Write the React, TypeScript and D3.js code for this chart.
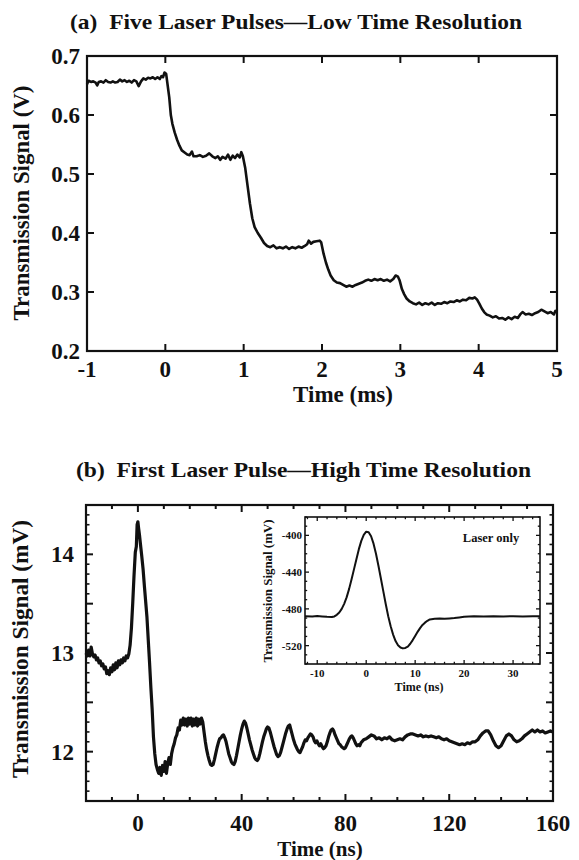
import React from "react";
import * as d3 from "d3";

type P = [number, number];

// ---------- Panel (a) ----------
const aTitle = "(a)  Five Laser Pulses\u2014Low Time Resolution";
const aXLabel = "Time (ms)";
const aYLabel = "Transmission Signal (V)";
const aTicksX = [-1, 0, 1, 2, 3, 4, 5];
const aTicksY = [0.2, 0.3, 0.4, 0.5, 0.6, 0.7];
const aSeries: P[] = [
  [-1.0, 0.652], [-0.98, 0.658], [-0.95, 0.656], [-0.92, 0.657], [-0.89, 0.655], [-0.87, 0.65], [-0.85, 0.656],
  [-0.82, 0.657], [-0.79, 0.655], [-0.76, 0.659], [-0.73, 0.656], [-0.7, 0.655], [-0.67, 0.657], [-0.64, 0.655],
  [-0.61, 0.656], [-0.58, 0.66], [-0.55, 0.657], [-0.52, 0.659], [-0.49, 0.656], [-0.46, 0.658], [-0.43, 0.655],
  [-0.4, 0.659], [-0.37, 0.657], [-0.34, 0.649], [-0.31, 0.657], [-0.28, 0.662], [-0.25, 0.66], [-0.22, 0.663],
  [-0.19, 0.662], [-0.16, 0.664], [-0.13, 0.661], [-0.1, 0.664], [-0.07, 0.661], [-0.05, 0.666], [-0.03, 0.664],
  [-0.01, 0.672], [0.01, 0.67],
  [0.03, 0.65], [0.05, 0.63], [0.07, 0.6], [0.09, 0.585], [0.12, 0.57], [0.15, 0.558], [0.18, 0.548], [0.21, 0.54],
  [0.25, 0.536], [0.28, 0.533], [0.31, 0.532], [0.34, 0.538], [0.36, 0.53], [0.4, 0.53], [0.44, 0.532], [0.48, 0.529],
  [0.52, 0.531], [0.56, 0.535], [0.6, 0.53], [0.64, 0.527], [0.67, 0.53], [0.7, 0.524], [0.73, 0.529], [0.77, 0.526],
  [0.8, 0.533], [0.83, 0.524], [0.86, 0.531], [0.89, 0.527], [0.92, 0.533], [0.95, 0.528], [0.97, 0.537], [0.99, 0.53],
  [1.02, 0.51], [1.05, 0.48], [1.08, 0.45], [1.11, 0.425], [1.14, 0.41], [1.18, 0.4], [1.22, 0.392], [1.26, 0.383],
  [1.3, 0.378], [1.34, 0.376], [1.38, 0.379], [1.42, 0.374], [1.46, 0.376], [1.5, 0.374], [1.54, 0.377], [1.58, 0.373],
  [1.62, 0.376], [1.66, 0.374], [1.7, 0.377], [1.74, 0.375], [1.78, 0.378], [1.81, 0.381], [1.83, 0.387], [1.86, 0.382],
  [1.89, 0.385], [1.93, 0.386], [1.97, 0.387], [1.99, 0.384],
  [2.02, 0.365], [2.05, 0.35], [2.08, 0.338], [2.11, 0.328], [2.15, 0.32], [2.19, 0.316], [2.23, 0.315], [2.27, 0.312],
  [2.31, 0.309], [2.35, 0.311], [2.39, 0.309], [2.43, 0.312], [2.47, 0.314], [2.51, 0.316], [2.55, 0.319], [2.59, 0.321],
  [2.63, 0.319], [2.67, 0.322], [2.71, 0.32], [2.75, 0.322], [2.79, 0.319], [2.83, 0.321], [2.87, 0.318], [2.91, 0.322],
  [2.94, 0.328], [2.97, 0.326], [2.99, 0.32],
  [3.02, 0.305], [3.05, 0.296], [3.08, 0.289], [3.12, 0.284], [3.16, 0.281], [3.2, 0.279], [3.24, 0.282], [3.28, 0.278],
  [3.32, 0.281], [3.36, 0.279], [3.4, 0.282], [3.44, 0.278], [3.48, 0.281], [3.52, 0.28], [3.56, 0.283], [3.6, 0.281],
  [3.64, 0.284], [3.68, 0.283], [3.72, 0.286], [3.76, 0.284], [3.8, 0.287], [3.84, 0.286], [3.88, 0.29], [3.92, 0.289],
  [3.95, 0.291], [3.98, 0.287],
  [4.01, 0.28], [4.04, 0.272], [4.07, 0.266], [4.1, 0.262], [4.14, 0.26], [4.18, 0.257], [4.22, 0.259], [4.26, 0.255],
  [4.3, 0.256], [4.34, 0.253], [4.38, 0.257], [4.42, 0.254], [4.46, 0.258], [4.5, 0.256], [4.53, 0.262], [4.56, 0.266],
  [4.6, 0.262], [4.64, 0.263], [4.68, 0.261], [4.72, 0.264], [4.76, 0.266], [4.8, 0.27], [4.84, 0.267], [4.88, 0.264],
  [4.92, 0.266], [4.96, 0.262], [4.98, 0.268], [5.0, 0.266],
];

// ---------- Panel (b) ----------
const bTitle = "(b)  First Laser Pulse\u2014High Time Resolution";
const bXLabel = "Time (ns)";
const bYLabel = "Transmission Signal (mV)";
const bTicksX = [0, 40, 80, 120, 160];
const bTicksY = [12, 13, 14];
const bSeries: P[] = [
  [-20, 13.0], [-19.5, 12.97], [-19, 13.03], [-18.5, 12.97], [-18, 13.06], [-17.5, 12.99], [-17, 12.96], [-16.5, 12.98],
  [-16, 12.93], [-15.5, 12.95], [-15, 12.9], [-14.5, 12.92], [-14, 12.87], [-13.5, 12.89], [-13, 12.84], [-12.5, 12.86],
  [-12, 12.79], [-11.5, 12.82], [-11, 12.78], [-10.5, 12.85], [-10, 12.81], [-9.5, 12.88], [-9, 12.83], [-8.5, 12.9],
  [-8, 12.85], [-7.5, 12.92], [-7, 12.88], [-6.5, 12.93], [-6, 12.9], [-5.5, 12.95], [-5, 12.92], [-4.5, 12.97],
  [-4, 12.95], [-3.5, 12.99], [-3, 13.08], [-2.5, 13.25], [-2, 13.5], [-1.5, 13.78], [-1, 14.02], [-0.6, 14.08],
  [-0.3, 14.3], [0, 14.33], [0.3, 14.26], [0.6, 14.2], [1, 14.1], [1.5, 13.98], [2, 13.85], [2.5, 13.68], [3, 13.52],
  [3.5, 13.36], [4, 13.13], [4.5, 12.9], [5, 12.65], [5.5, 12.43], [6, 12.15], [6.5, 11.98], [7, 11.87], [7.5, 11.82],
  [8, 11.78], [8.5, 11.84], [9, 11.76], [9.5, 11.86], [10, 11.8], [10.5, 11.9], [11, 11.78], [11.5, 11.88], [12, 11.94],
  [12.5, 11.87], [13, 11.98], [13.5, 12.04], [14, 12.08], [14.5, 12.14], [15, 12.17], [15.5, 12.24], [16, 12.22],
  [16.5, 12.32], [17, 12.27], [17.5, 12.34], [18, 12.27], [18.5, 12.33], [19, 12.26], [19.5, 12.34], [20, 12.28],
  [20.5, 12.34], [21, 12.26], [21.5, 12.33], [22, 12.27], [22.5, 12.34], [23, 12.26], [23.5, 12.33], [24, 12.28],
  [24.5, 12.34], [25, 12.3], [25.5, 12.2], [26, 12.1], [26.5, 12.02], [27, 11.96], [27.5, 11.91], [28, 11.87],
  [28.5, 11.86], [29, 11.87], [29.5, 11.92], [30, 11.98], [30.5, 12.04], [31, 12.09], [31.5, 12.13], [32, 12.14],
  [32.5, 12.16], [33, 12.17], [33.5, 12.14], [34, 12.1], [34.5, 12.04], [35, 11.98], [35.5, 11.94], [36, 11.9],
  [36.5, 11.88], [37, 11.87], [37.5, 11.9], [38, 11.96], [38.5, 12.03], [39, 12.1], [39.5, 12.17], [40, 12.23],
  [40.5, 12.28], [41, 12.31], [41.5, 12.29], [42, 12.24], [42.5, 12.18], [43, 12.12], [43.5, 12.07], [44, 12.02],
  [44.5, 11.98], [45, 11.94], [45.5, 11.92], [46, 11.91], [46.5, 11.93], [47, 11.98], [47.5, 12.04], [48, 12.1],
  [48.5, 12.15], [49, 12.19], [49.5, 12.23], [50, 12.25], [50.5, 12.24], [51, 12.2], [51.5, 12.15], [52, 12.1],
  [52.5, 12.05], [53, 12.01], [53.5, 11.97], [54, 11.95], [54.5, 11.96], [55, 11.99], [55.5, 12.04], [56, 12.09],
  [56.5, 12.14], [57, 12.19], [57.5, 12.23], [58, 12.26], [58.5, 12.27], [59, 12.22], [59.5, 12.17], [60, 12.12],
  [60.5, 12.08], [61, 12.05], [61.5, 12.02], [62, 12.0], [62.5, 11.99], [63, 12.02], [63.5, 12.05], [64, 12.09],
  [64.5, 12.12], [65, 12.11], [65.5, 12.14], [66, 12.16], [66.5, 12.18], [67, 12.17], [67.5, 12.15], [68, 12.11],
  [68.5, 12.09], [69, 12.11], [69.5, 12.08], [70, 12.06], [70.5, 12.08], [71, 12.05], [71.5, 12.03], [72, 12.04],
  [72.5, 12.06], [73, 12.1], [73.5, 12.15], [74, 12.19], [74.5, 12.22], [75, 12.23], [75.5, 12.21], [76, 12.17],
  [76.5, 12.14], [77, 12.11], [77.5, 12.08], [78, 12.07], [78.5, 12.05], [79, 12.04], [79.5, 12.03], [80, 12.04],
  [80.5, 12.07], [81, 12.1], [81.5, 12.13], [82, 12.15], [82.5, 12.16], [83, 12.14], [83.5, 12.11], [84, 12.08],
  [84.5, 12.06], [85, 12.07], [85.5, 12.06], [86, 12.09], [87, 12.12], [88, 12.13], [89, 12.15], [90, 12.17],
  [91, 12.16], [92, 12.13], [93, 12.14], [94, 12.12], [95, 12.14], [96, 12.13], [97, 12.15], [98, 12.12], [99, 12.11],
  [100, 12.12], [101, 12.13], [102, 12.12], [103, 12.15], [104, 12.17], [105, 12.18], [106, 12.18], [107, 12.17],
  [108, 12.16], [109, 12.17], [110, 12.15], [111, 12.16], [112, 12.15], [113, 12.16], [114, 12.15], [115, 12.14],
  [116, 12.15], [117, 12.13], [118, 12.12], [119, 12.13], [120, 12.11], [121, 12.1], [122, 12.09], [123, 12.08],
  [124, 12.07], [125, 12.08], [126, 12.07], [127, 12.09], [128, 12.08], [129, 12.1], [130, 12.1], [131, 12.12],
  [132, 12.16], [133, 12.19], [134, 12.21], [135, 12.21], [136, 12.17], [137, 12.11], [138, 12.06], [139, 12.04],
  [140, 12.06], [141, 12.11], [142, 12.16], [143, 12.18], [144, 12.16], [145, 12.12], [146, 12.1], [147, 12.11],
  [148, 12.13], [149, 12.16], [150, 12.18], [151, 12.2], [152, 12.22], [153, 12.2], [154, 12.22], [155, 12.2],
  [156, 12.21], [157, 12.19], [158, 12.2], [159, 12.21], [160, 12.2],
];

// ---------- Inset ----------
const iLabel = "Laser only";
const iXLabel = "Time (ns)";
const iYLabel = "Transmission Signal (mV)";
const iTicksX = [-10, 0, 10, 20, 30];
const iTicksY = [-400, -440, -480, -520];
const iSeries: P[] = [
  [-12.5, -488], [-11, -488.3], [-10, -487.8], [-9, -488.2], [-8, -488.6], [-7, -488.8], [-6.5, -488.2], [-6, -486.5],
  [-5.5, -484], [-5, -480], [-4.5, -474.5], [-4, -467.5], [-3.5, -458.5], [-3, -448], [-2.5, -437], [-2, -426],
  [-1.5, -415], [-1, -406], [-0.5, -399.5], [0, -396], [0.5, -396.5], [1, -401], [1.5, -409], [2, -420], [2.5, -433],
  [3, -447], [3.5, -461], [4, -475], [4.5, -488], [5, -499], [5.5, -508], [6, -515], [6.5, -519.5], [7, -522],
  [7.5, -523], [8, -522.5], [8.5, -521], [9, -518], [9.5, -514], [10, -509.5], [10.5, -505], [11, -501], [11.5, -497.5],
  [12, -495], [12.5, -493], [13, -491.5], [14, -490.8], [15, -490.6], [16, -490.8], [17, -490.4], [18, -490],
  [19, -489.3], [20, -488.6], [21, -488.2], [22, -488], [24, -488.3], [26, -487.9], [28, -488.2], [30, -488.1],
  [32, -488.3], [34, -488], [35.5, -488.1],
];

const FONT = "'Liberation Serif', 'Times New Roman', Times, serif";
const INK = "#111";

export default function App() {
  // panel (a) geometry
  const xA = d3.scaleLinear().domain([-1, 5]).range([87, 557]);
  const yA = d3.scaleLinear().domain([0.2, 0.7]).range([351, 56]);
  const lineA = d3.line<P>().x((d) => xA(d[0])).y((d) => yA(d[1]));

  // panel (b) geometry
  const xB = d3.scaleLinear().domain([-20, 160]).range([86, 553]);
  const yB = d3.scaleLinear().domain([11.5, 14.5]).range([801, 505]);
  const lineB = d3.line<P>().x((d) => xB(d[0])).y((d) => yB(d[1]));
  const bMinorX = d3.range(-20, 161, 10);
  const bMinorY = d3.range(11.5, 14.51, 0.1);
  const bMidY = d3.range(11.5, 14.51, 0.5);

  // inset geometry
  const xI = d3.scaleLinear().domain([-12.5, 35.5]).range([305, 540]);
  const yI = d3.scaleLinear().domain([-540, -380]).range([664, 517]);
  const lineI = d3.line<P>().x((d) => xI(d[0])).y((d) => yI(d[1]));
  const iMinorX = d3.range(-12, 35.1, 2);
  const iMinorY = d3.range(-540, -379, 10);

  const [ax0, ax1] = xA.range();
  const [ay0, ay1] = yA.range();
  const [bx0, bx1] = xB.range();
  const [by0, by1] = yB.range();
  const [ix0, ix1] = xI.range();
  const [iy0, iy1] = yI.range();

  const tickStyle = { stroke: INK, strokeWidth: 2 } as const;
  const thin = { stroke: INK, strokeWidth: 1.3 } as const;

  return (
    <svg
      width={579}
      height={860}
      viewBox="0 0 579 860"
      style={{ position: "absolute", left: 0, top: 0, background: "#fff" }}
      fontFamily={FONT}
      fontWeight="bold"
      fill={INK}
    >
      <rect x={0} y={0} width={579} height={860} fill="#fff" />

      {/* ===== Panel (a) ===== */}
      <text x={296} y={29} fontSize={22} textAnchor="middle" style={{ whiteSpace: "pre" }} textLength={452} lengthAdjust="spacingAndGlyphs">
        {aTitle}
      </text>
      {aTicksX.map((t) => (
        <g key={"ax" + t}>
          <line x1={xA(t)} x2={xA(t)} y1={ay0} y2={ay0 - 7} {...tickStyle} />
          <line x1={xA(t)} x2={xA(t)} y1={ay1} y2={ay1 + 7} {...tickStyle} />
          <text x={xA(t)} y={377} fontSize={23} textAnchor="middle">{String(t)}</text>
        </g>
      ))}
      {aTicksY.map((v) => (
        <g key={"ay" + v}>
          <line x1={ax0} x2={ax0 + 7} y1={yA(v)} y2={yA(v)} {...tickStyle} />
          <line x1={ax1} x2={ax1 - 7} y1={yA(v)} y2={yA(v)} {...tickStyle} />
          <text x={80} y={yA(v) + 8} fontSize={23} textAnchor="end">{v.toFixed(1)}</text>
        </g>
      ))}
      <path d={lineA(aSeries) || ""} fill="none" stroke={INK} strokeWidth={2.6} strokeLinejoin="round" />
      <rect x={ax0} y={ay1} width={ax1 - ax0} height={ay0 - ay1} fill="none" stroke={INK} strokeWidth={2.2} />
      <text x={343} y={402} fontSize={23} textAnchor="middle">{aXLabel}</text>
      <text transform={`translate(29,203) rotate(-90)`} fontSize={23} textAnchor="middle" textLength={235} lengthAdjust="spacingAndGlyphs">
        {aYLabel}
      </text>

      {/* ===== Panel (b) ===== */}
      <text x={303.5} y={477} fontSize={22} textAnchor="middle" style={{ whiteSpace: "pre" }} textLength={455} lengthAdjust="spacingAndGlyphs">
        {bTitle}
      </text>
      {bMinorX.map((t) => {
        const major = bTicksX.includes(t);
        const len = major ? 7 : 4;
        return (
          <g key={"bmx" + t}>
            <line x1={xB(t)} x2={xB(t)} y1={by0} y2={by0 - len} {...tickStyle} />
            <line x1={xB(t)} x2={xB(t)} y1={by1} y2={by1 + len} {...tickStyle} />
          </g>
        );
      })}
      {bMinorY.map((v, i) => {
        const isMid = bMidY.some((m) => Math.abs(m - v) < 1e-6);
        const len = isMid ? 7 : 3.5;
        return (
          <g key={"bmy" + i}>
            <line x1={bx0} x2={bx0 + len} y1={yB(v)} y2={yB(v)} stroke={INK} strokeWidth={isMid ? 2 : 1.6} />
            <line x1={bx1} x2={bx1 - len} y1={yB(v)} y2={yB(v)} stroke={INK} strokeWidth={isMid ? 2 : 1.6} />
          </g>
        );
      })}
      {bTicksX.map((t) => (
        <text key={"bxl" + t} x={xB(t)} y={831} fontSize={23} textAnchor="middle">{String(t)}</text>
      ))}
      {bTicksY.map((v) => (
        <text key={"byl" + v} x={74} y={yB(v) + 8} fontSize={23} textAnchor="end">{String(v)}</text>
      ))}
      <path d={lineB(bSeries) || ""} fill="none" stroke={INK} strokeWidth={3.2} strokeLinejoin="round" />
      <rect x={bx0} y={by1} width={bx1 - bx0} height={by0 - by1} fill="none" stroke={INK} strokeWidth={2.2} />
      <text x={320} y={856} fontSize={21} textAnchor="middle">{bXLabel}</text>
      <text transform={`translate(28,649) rotate(-90)`} fontSize={23} textAnchor="middle" textLength={258} lengthAdjust="spacingAndGlyphs">
        {bYLabel}
      </text>

      {/* ===== Inset ===== */}
      <rect x={ix0} y={iy1} width={ix1 - ix0} height={iy0 - iy1} fill="#fff" stroke="none" />
      {iMinorX.map((t) => {
        const major = iTicksX.includes(t) || t === 0;
        const len = major ? 4 : 2.2;
        return (
          <g key={"imx" + t}>
            <line x1={xI(t)} x2={xI(t)} y1={iy0} y2={iy0 - len} {...thin} />
            <line x1={xI(t)} x2={xI(t)} y1={iy1} y2={iy1 + len} {...thin} />
          </g>
        );
      })}
      {iMinorY.map((v) => {
        const major = iTicksY.includes(v);
        const len = major ? 4 : 2.2;
        return (
          <g key={"imy" + v}>
            <line x1={ix0} x2={ix0 + len} y1={yI(v)} y2={yI(v)} {...thin} />
            <line x1={ix1} x2={ix1 - len} y1={yI(v)} y2={yI(v)} {...thin} />
          </g>
        );
      })}
      {iTicksX.map((t) => (
        <text key={"ixl" + t} x={xI(t)} y={677} fontSize={11} textAnchor="middle">{String(t)}</text>
      ))}
      {iTicksY.map((v) => (
        <text key={"iyl" + v} x={302} y={yI(v) + 4} fontSize={11} textAnchor="end">{String(v)}</text>
      ))}
      <path d={lineI(iSeries) || ""} fill="none" stroke={INK} strokeWidth={2} strokeLinejoin="round" />
      <rect x={ix0} y={iy1} width={ix1 - ix0} height={iy0 - iy1} fill="none" stroke={INK} strokeWidth={1.6} />
      <text x={491} y={542} fontSize={12.5} textAnchor="middle">{iLabel}</text>
      <text x={419} y={691} fontSize={12} textAnchor="middle">{iXLabel}</text>
      <text transform={`translate(272,591) rotate(-90)`} fontSize={12} textAnchor="middle" textLength={143} lengthAdjust="spacingAndGlyphs">
        {iYLabel}
      </text>
    </svg>
  );
}
